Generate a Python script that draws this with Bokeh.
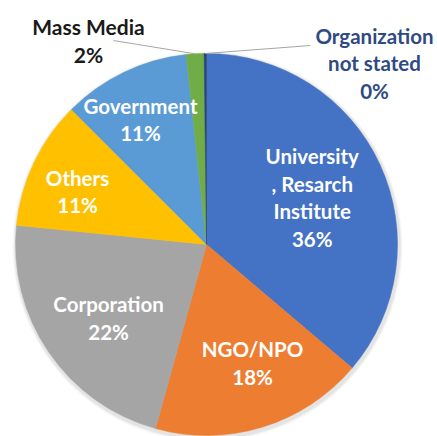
import math
from bokeh.plotting import figure
from bokeh.models import Range1d, ColumnDataSource
from bokeh.core.properties import value
from bokeh.embed import file_html
from bokeh.resources import INLINE

# ---- data ----
categories = ["University, Resarch Institute", "NGO/NPO", "Corporation", "Others",
              "Government", "Mass Media", "Organization not stated"]
label_lines = [["University", ", Resarch", "Institute"], ["NGO/NPO"], ["Corporation"], ["Others"],
               ["Government"], ["Mass Media"], ["Organization", "not stated"]]
shares = [36.2, 18.1, 22.3, 10.9, 10.8, 1.5, 0.2]
pct_labels = ["36%", "18%", "22%", "11%", "11%", "2%", "0%"]
colors = ["#4472C4", "#ED7D31", "#A5A5A5", "#FFC000", "#5B9BD5", "#70AD47", "#264478"]

# ---- layout ----
W, H = 437, 436
CX, CY_S, R = 206.0, 244.0, 191.0   # centre in page pixels


def ys(screen_y):
    return float(H) - screen_y


CY = ys(CY_S)

p = figure(width=W, height=H, output_backend="svg", toolbar_location=None,
           x_range=Range1d(0, W), y_range=Range1d(0, H), min_border=0,
           outline_line_color=None, background_fill_color="white", border_fill_color="white")
p.axis.visible = False
p.grid.visible = False

total = sum(shares)
starts, ends, mids = [], [], []
cum = 0.0
for s in shares:
    a0 = cum / total * 2 * math.pi
    cum += s
    a1 = cum / total * 2 * math.pi
    starts.append(math.pi / 2 - a0)
    ends.append(math.pi / 2 - a1)
    mids.append((a0 + a1) / 2)

# soft shadow
for k, al in [(4, 0.05), (3, 0.07), (2, 0.09)]:
    p.circle(x=CX + 1, y=CY - 2, radius=R + k, fill_color="#7f7f7f", fill_alpha=al, line_color=None)

src = ColumnDataSource(dict(start=starts, end=ends, color=colors, cat=categories))
p.wedge(x=CX, y=CY, radius=R, start_angle="start", end_angle="end", direction="clock",
        fill_color="color", line_color="color", line_width=0.5, source=src)

FONT = value("Lato")
LH = 27.5

# inside labels
frac = [0.61, 0.66, 0.64, 0.73, 0.74]
nudge = [(0, 2), (9, -2), (3, 4.5), (-3, 7), (-5, 2.5)]
for i in range(5):
    m = mids[i]
    xs_ = CX + frac[i] * R * math.sin(m) + nudge[i][0]
    yc = CY_S - frac[i] * R * math.cos(m) + nudge[i][1]
    lines = label_lines[i] + [pct_labels[i]]
    n = len(lines)
    for j, t in enumerate(lines):
        yy = yc + (j - (n - 1) / 2) * LH
        p.text(x=[xs_], y=[ys(yy)], text=[t], text_font=FONT, text_font_style="bold",
               text_font_size="20.5px", text_color="white", text_align="center",
               text_baseline="middle")

# outside labels with leader lines
out = {5: dict(pos=(88, 26), color="#1a1a1a", size="21px", anchor=(113, 40)),
       6: dict(pos=(374, 35), color="#2F4A82", size="20.5px", anchor=(310, 45))}
for i, o in out.items():
    m = mids[i]
    ex = CX + R * math.sin(m)
    ey = CY_S - R * math.cos(m)
    p.line(x=[o["anchor"][0], ex], y=[ys(o["anchor"][1]), ys(ey)], line_color="#a6a6a6", line_width=1)
    lines = label_lines[i] + [pct_labels[i]]
    for j, t in enumerate(lines):
        yy = o["pos"][1] + j * LH
        p.text(x=[o["pos"][0]], y=[ys(yy)], text=[t], text_font=FONT, text_font_style="bold",
               text_font_size=o["size"], text_color=o["color"], text_align="center",
               text_baseline="middle")

open("out.html", "w").write(file_html(p, INLINE))
